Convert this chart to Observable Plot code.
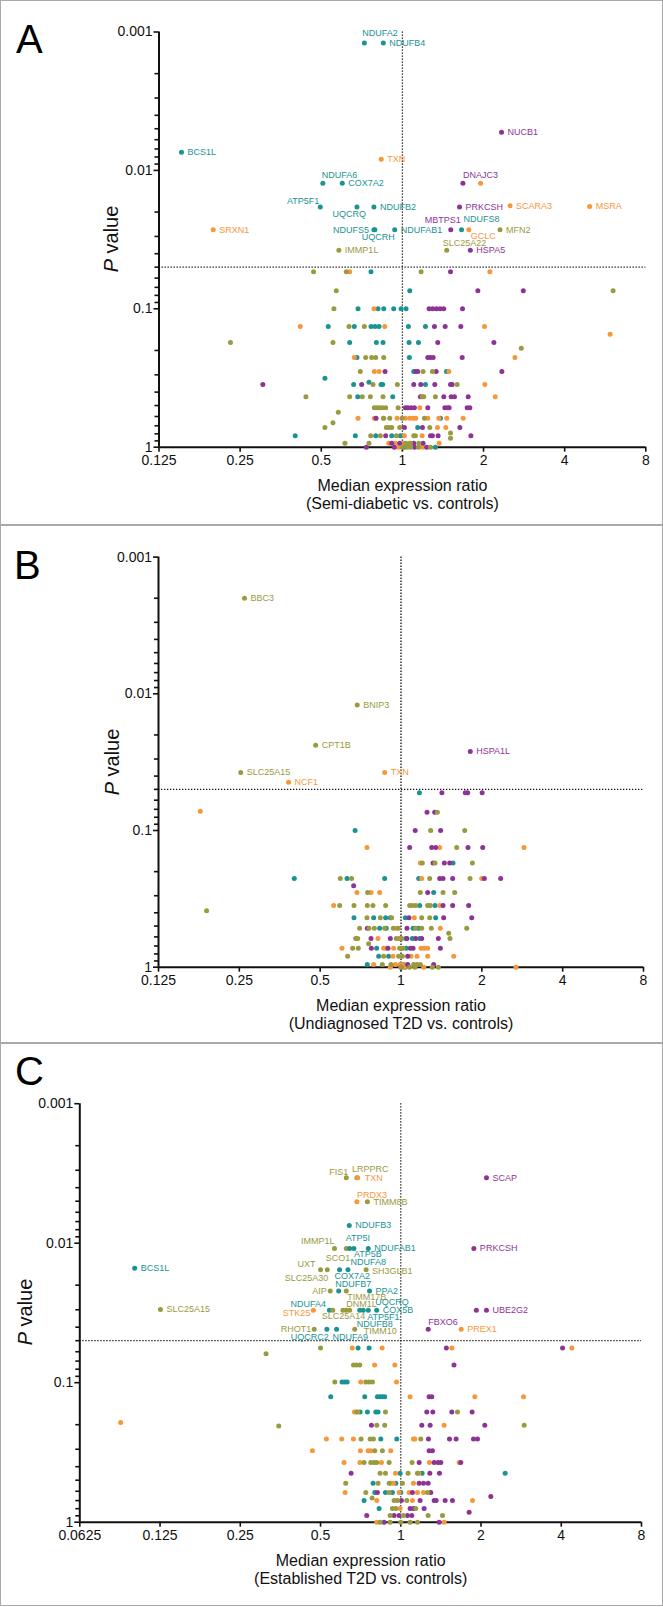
<!DOCTYPE html>
<html><head><meta charset="utf-8">
<script src="https://cdn.jsdelivr.net/npm/d3@7"></script>
<script src="https://cdn.jsdelivr.net/npm/@observablehq/plot@0.6"></script>
<style>
body{margin:0;background:#fff;}
#wrap{position:relative;width:663px;height:1607px;overflow:hidden;background:#fff;font-family:"Liberation Sans",Arial,sans-serif;color:#111;}
.frame{position:absolute;left:0;top:0;width:663px;height:1606px;border:1.5px solid #a9a9a9;box-sizing:border-box;}
.sep{position:absolute;left:0;width:663px;height:1.5px;background:#a9a9a9;}
.letter{position:absolute;font-size:40px;line-height:40px;color:#000;}
.ylab{position:absolute;width:200px;height:24px;line-height:24px;text-align:center;font-size:20px;transform:rotate(-90deg);color:#111;}
.pl{position:absolute;left:0;}
</style></head>
<body><div id="wrap"><div class="frame"></div>
<div class="sep" style="top:524px"></div><div class="sep" style="top:1042px"></div>
</div>
<script>
// ---------- axis ticks & labels ----------
const xTicksAB = [0.125, 0.25, 0.5, 1, 2, 4, 8];
const xTickLabelsAB = ["0.125", "0.25", "0.5", "1", "2", "4", "8"];
const xTicksC = [0.0625, 0.125, 0.25, 0.5, 1, 2, 4, 8];
const xTickLabelsC = ["0.0625", "0.125", "0.25", "0.5", "1", "2", "4", "8"];
const yTicks = [0.001, 0.01, 0.1, 1];
const yTickLabels = ["0.001", "0.01", "0.1", "1"];
const yMinorTicks = [0.002,0.003,0.004,0.005,0.006,0.007,0.008,0.009,0.02,0.03,0.04,0.05,0.06,0.07,0.08,0.09,0.2,0.3,0.4,0.5,0.6,0.7,0.8,0.9];
const pThreshold = 0.05;
const groupNames = ["teal", "orange", "purple", "olive"];

// ---------- Panel A (Semi-diabetic vs. controls): [log2 ratio, P] ----------
const A_teal = [[-0.387,0.054],[0.091,0.074],
 [-0.547,0.1],[-0.300,0.1],[-0.230,0.1],[-0.107,0.1],[-0.016,0.1],[0.045,0.1],
 [-0.914,0.134],[-0.593,0.134],[-0.387,0.134],[-0.337,0.134],[-0.288,0.134],[0.074,0.134],[0.284,0.134],
 [-0.650,0.175],[-0.321,0.175],[-0.239,0.175],[0.082,0.175],[0.198,0.175],
 [-0.560,0.225],[0.086,0.225],[0.140,0.284],[0.543,0.284],
 [-0.955,0.317],[-0.412,0.34],[-0.601,0.352],[-0.263,0.352],[-0.243,0.352],[0.284,0.352],
 [-0.551,0.432],[-0.119,0.432],[0.469,0.617],[0.189,0.721],
 [-1.321,0.828],[-0.580,0.828],[-0.329,0.828],[-0.132,0.828],[-0.025,0.828],
 [0.020,1],[0.407,1]];
const A_orange = [[-0.650,0.054],[1.078,0.054],[-0.350,0.1],
 [-1.259,0.134],[-0.218,0.134],[1.012,0.134],[2.560,0.153],
 [-0.593,0.225],[1.387,0.225],[-0.346,0.284],[-0.288,0.284],[0.572,0.284],
 [1.016,0.352],[1.144,0.432],[0.214,0.519],
 [-0.547,0.617],[-0.346,0.617],[-0.235,0.617],[-0.066,0.617],[0.037,0.617],[0.091,0.617],[0.132,0.617],[0.165,0.617],[0.313,0.617],[0.449,0.617],[0.547,0.617],[0.749,0.617],
 [0.432,0.721],[0.535,0.721],[0.025,0.828],[0.243,0.828],
 [-0.169,0.936],[-0.086,0.936],[0.016,0.936],[0.086,0.936],[0.453,0.936],
 [-0.050,1],[0.250,1],[0.963,0.0124]];
const A_purple = [[0.593,0.054],[0.930,0.074],[1.490,0.074],
 [0.329,0.1],[0.374,0.1],[0.420,0.1],[0.465,0.1],[0.510,0.1],[0.741,0.1],
 [0.395,0.134],[0.527,0.134],[0.720,0.134],[0.436,0.175],[1.128,0.175],
 [0.313,0.225],[0.346,0.225],[0.379,0.225],[0.737,0.225],
 [-0.214,0.284],[0.165,0.284],[0.189,0.284],[0.416,0.284],[1.226,0.284],
 [-1.720,0.352],[-0.502,0.352],[0.140,0.352],[0.226,0.352],[0.399,0.352],[0.593,0.352],[0.613,0.352],
 [0.222,0.432],[0.510,0.432],[0.601,0.432],[0.642,0.432],[0.811,0.432],
 [0.037,0.519],[0.066,0.519],[0.107,0.519],[0.148,0.519],[0.313,0.519],[0.523,0.519],[0.556,0.519],[0.576,0.519],[0.798,0.519],[0.831,0.519],
 [-0.325,0.617],[0.025,0.721],[0.247,0.721],[0.708,0.721],
 [-0.206,0.828],[0.346,0.828],[0.370,0.828],[0.440,0.828],[0.844,0.828],
 [-0.132,0.936],[-0.033,0.936],[0.140,0.936],[0.255,0.936],
 [-0.444,1],[-0.100,1],[0.150,1],[0.300,1]];
const A_olive = [[-1.095,0.054],[-0.691,0.054],[0.230,0.054],[-0.815,0.074],[2.597,0.074],
 [-0.844,0.1],[-0.658,0.134],[-0.469,0.134],[-2.119,0.175],[-0.856,0.175],[1.465,0.193],
 [-0.453,0.225],[-0.379,0.225],[-0.329,0.225],[-0.230,0.225],
 [-0.519,0.284],[0.255,0.284],[0.370,0.284],[-0.362,0.352],[-0.062,0.352],[0.675,0.352],
 [-1.189,0.432],[-0.650,0.432],[-0.494,0.432],[-0.395,0.432],[-0.239,0.432],[0.243,0.432],[0.263,0.432],[0.407,0.432],
 [-0.346,0.519],[-0.313,0.519],[-0.280,0.519],[-0.247,0.519],[-0.206,0.519],[-0.053,0.519],[-0.790,0.559],
 [-0.230,0.617],[-0.156,0.617],[-0.004,0.617],[0.272,0.617],[-0.856,0.667],
 [-0.955,0.721],[-0.198,0.721],[-0.165,0.721],[-0.132,0.721],[-0.033,0.721],[0.337,0.721],
 [-0.391,0.828],[-0.272,0.828],[-0.074,0.828],[0.140,0.828],[0.160,0.828],[0.593,0.79],[0.593,0.86],
 [-0.708,0.936],[-0.412,0.936],[0.041,0.936],[0.099,0.936],[0.202,0.936],
 [-0.004,1],[0.058,1],[0.100,1],[0.200,1],[0.346,1]];
const A_genes = [["NDUFA2","teal",-0.469,0.0012],["NDUFB4","teal",-0.235,0.0012],["NUCB1","purple",1.222,0.0053],
 ["BCS1L","teal",-2.723,0.0074],["TXN","orange",-0.261,0.0083],["NDUFA6","teal",-0.981,0.0124],
 ["COX7A2","teal",-0.741,0.0124],["DNAJC3","purple",0.746,0.0124],["ATP5F1","teal",-1.012,0.0184],
 ["UQCRQ","teal",-0.560,0.0184],["NDUFB2","teal",-0.351,0.0184],["PRKCSH","purple",0.704,0.0184],
 ["SCARA3","orange",1.327,0.0180],["MSRA","orange",2.308,0.0182],["MBTPS1","purple",0.596,0.0268],
 ["NDUFS8","teal",0.729,0.0268],["GCLC","orange",0.819,0.0268],["MFN2","olive",1.203,0.0268],
 ["SRXN1","orange",-2.332,0.0268],["NDUFS5","teal",-0.351,0.0268],["UQCRH","teal",-0.340,0.0268],
 ["NDUFAB1","teal",-0.095,0.0268],["SLC25A22","olive",0.546,0.0378],["HSPA5","purple",0.837,0.0378],
 ["IMMP1L","olive",-0.783,0.0378]];

// ---------- Panel B (Undiagnosed T2D vs. controls) ----------
const B_teal = [[0.228,0.053],[-0.568,0.1],[0.644,0.173],
 [-1.320,0.2245],[-0.668,0.2245],[-0.202,0.2245],[0.219,0.2245],[0.404,0.284],[0.231,0.354],[0.421,0.354],
 [-0.582,0.4355],[-0.338,0.4355],[-0.190,0.4355],[-0.132,0.4355],[0.054,0.4355],[0.429,0.4355],
 [-0.264,0.519],[-0.182,0.519],[0.149,0.519],[0.215,0.519],
 [-0.017,0.617],[0.058,0.617],[0.140,0.617],[0.231,0.617],[-0.301,0.726],[0.066,0.726],
 [-0.276,0.831],[-0.153,0.831],[-0.417,0.956],[0.033,0.956],[0.050,1]];
const B_orange = [[-2.483,0.0722],[-0.421,0.133],[0.479,0.133],[1.522,0.133],[0.239,0.173],
 [0.256,0.2245],[0.998,0.2245],[-0.545,0.284],[-0.371,0.284],[-0.264,0.284],[-0.833,0.354],[0.479,0.354],
 [0.165,0.4355],[-0.058,0.519],[0.487,0.519],[-0.285,0.617],[-0.008,0.617],
 [-0.730,0.726],[-0.215,0.726],[-0.182,0.726],[-0.091,0.726],[0.012,0.726],[0.248,0.726],[0.289,0.726],[0.330,0.726],
 [-0.099,0.831],[0.124,0.831],[0.198,0.831],[0.330,0.831],[0.652,0.831],
 [-0.338,0.956],[-0.070,0.956],[-0.017,0.956],[0.025,0.956],[-0.132,1],[0.041,1],[0.281,1],[1.423,1]];
const B_purple = [[0.506,0.053],[0.795,0.053],[0.825,0.053],[1.004,0.053],[0.322,0.0735],[0.417,0.0735],
 [0.176,0.1],[0.490,0.1],[0.107,0.133],[0.380,0.133],[0.429,0.133],[0.829,0.133],[1.011,0.133],
 [0.396,0.173],[0.536,0.173],[0.602,0.173],[0.479,0.2245],[0.520,0.2245],[0.639,0.2245],[1.031,0.2245],[1.233,0.2245],
 [-0.586,0.254],[0.330,0.284],[0.520,0.354],[0.639,0.354],[0.837,0.354],
 [0.099,0.4355],[0.528,0.4355],[0.875,0.4355],[-0.417,0.519],[0.074,0.519],
 [-0.371,0.617],[-0.132,0.617],[0.074,0.617],[0.182,0.617],[0.256,0.617],[0.462,0.617],
 [-0.367,0.726],[-0.161,0.726],[0.116,0.726],[0.149,0.726],[0.487,0.726],
 [0.083,0.831],[0.083,0.956],[0.404,0.956],[0.000,1]];
const B_olive = [[0.450,0.0735],[0.367,0.1],[0.788,0.1],[0.689,0.133],[0.264,0.173],[0.421,0.173],[0.883,0.173],
 [-0.751,0.2245],[-0.611,0.2245],[0.355,0.2245],[0.854,0.2245],[-0.413,0.284],[0.239,0.284],[0.520,0.284],[0.664,0.284],
 [-0.759,0.354],[-0.582,0.354],[-0.417,0.354],[-0.347,0.354],[-0.190,0.354],[0.107,0.354],[0.140,0.354],[0.182,0.354],[0.330,0.354],[0.363,0.354],
 [-2.405,0.387],[-0.421,0.4355],[-0.256,0.4355],[-0.116,0.4355],[0.256,0.4355],[0.355,0.4355],
 [-0.512,0.519],[-0.396,0.519],[-0.330,0.519],[-0.202,0.519],[-0.095,0.519],[-0.033,0.519],[0.182,0.519],[0.256,0.519],[0.375,0.519],[0.813,0.519],
 [0.590,0.564],[-0.561,0.617],[-0.536,0.617],[-0.058,0.617],[0.008,0.617],[0.606,0.617],[-0.400,0.675],
 [-0.598,0.726],[-0.528,0.726],[-0.017,0.726],[0.025,0.726],[-0.660,0.831],[-0.215,0.831],[-0.029,0.831],[0.017,0.831],
 [-0.231,0.956],[-0.124,0.956],[0.157,0.956],[0.198,0.956],[0.239,0.956],
 [0.000,1],[0.107,1],[0.173,1],[0.388,1],[0.462,1]];
const B_genes = [["BBC3","olive",-1.936,0.0020],["BNIP3","olive",-0.542,0.0121],["CPT1B","olive",-1.056,0.0238],
 ["HSPA1L","purple",0.857,0.0264],["SLC25A15","olive",-1.983,0.0376],["TXN","orange",-0.202,0.0376],
 ["NCF1","orange",-1.391,0.0443]];

// ---------- Panel C (Established T2D vs. controls) ----------
const C_teal = [[-0.532,0.0564],[-0.395,0.0564],[-0.732,0.099],[-0.700,0.099],[-0.668,0.099],
 [-0.873,0.126],[-0.449,0.126],[-0.291,0.126],[-0.258,0.126],[-0.229,0.126],[-0.200,0.126],
 [-0.507,0.162],[-0.416,0.162],[-0.312,0.162],[-0.283,0.162],[-0.249,0.253],[-0.050,0.253],
 [-0.008,0.445],[0.266,0.445],[1.301,0.445],[-0.345,0.525],[-0.062,0.525],
 [-0.324,0.613],[-0.191,0.613],[-0.104,0.613],[0.000,0.613],[-0.457,0.699],[-0.270,0.798]];
const C_orange = [[-0.605,0.0564],[-0.232,0.0564],[0.637,0.0564],[2.132,0.0564],[-0.326,0.0746],[-0.074,0.0746],
 [-0.499,0.099],[-0.053,0.099],[0.116,0.126],[0.923,0.126],[1.530,0.126],[-0.578,0.162],[-0.540,0.162],
 [-3.491,0.193],[0.540,0.2015],[-0.927,0.253],[-0.736,0.253],[-0.590,0.253],[0.158,0.253],[0.175,0.253],
 [-1.101,0.308],[-0.503,0.308],[-0.407,0.308],[-0.374,0.308],[-0.125,0.308],
 [-0.707,0.373],[-0.509,0.373],[-0.241,0.373],[0.357,0.373],[0.727,0.373],[-0.066,0.445],[0.224,0.445],
 [-0.125,0.525],[-0.091,0.525],[0.158,0.525],[-0.694,0.613],[-0.021,0.613],[0.104,0.613],[0.208,0.613],[0.283,0.613],
 [-0.299,0.699],[0.145,0.699],[0.894,0.699],[-0.008,0.798],[-0.299,1],[0.540,1]];
const C_purple = [[0.568,0.0564],[2.016,0.0564],[0.663,0.0746],[0.353,0.126],[0.387,0.126],
 [0.324,0.162],[0.399,0.162],[0.636,0.162],[0.889,0.162],[-0.366,0.2015],[0.262,0.2015],[0.366,0.2015],[1.047,0.2015],
 [0.345,0.253],[0.607,0.253],[0.690,0.253],[0.906,0.253],[0.956,0.253],[0.353,0.308],[0.395,0.308],
 [0.229,0.373],[0.416,0.373],[0.465,0.373],[0.499,0.373],[0.748,0.373],[-0.619,0.445],[0.362,0.445],[0.482,0.445],
 [0.229,0.525],[0.283,0.525],[0.341,0.525],[-0.291,0.613],[0.145,0.613],[0.374,0.613],
 [0.008,0.699],[0.241,0.699],[0.416,0.699],[0.441,0.699],[0.553,0.699],[0.644,0.699],[1.122,0.655],
 [0.116,0.798],[0.158,0.798],[0.291,0.798],[0.852,0.848],
 [-0.424,0.896],[-0.083,0.896],[-0.021,0.896],[0.083,0.896],[0.137,0.896],[-0.208,1],[0.478,1],[0.942,0.0303]];
const C_olive = [[-1.000,0.0564],[-1.679,0.0619],[-0.589,0.0746],[-0.553,0.0746],[-0.511,0.0746],
 [-0.822,0.099],[-0.436,0.099],[-0.395,0.099],[-0.353,0.099],[-0.549,0.162],[-0.191,0.162],[0.707,0.162],
 [-1.521,0.204],[-0.299,0.2015],[-0.200,0.2015],[1.538,0.2015],[-0.495,0.253],[-0.382,0.253],[-0.341,0.253],[0.249,0.253],
 [-0.324,0.308],[-0.229,0.308],[-0.457,0.373],[-0.374,0.373],[-0.333,0.373],[-0.299,0.373],[-0.145,0.373],[0.141,0.373],
 [-0.258,0.445],[-0.191,0.445],[0.091,0.445],[0.208,0.445],[-0.686,0.525],[-0.283,0.525],[-0.145,0.525],[0.021,0.525],
 [-0.436,0.613],[-0.145,0.613],[0.333,0.613],[-0.357,0.67],[-0.083,0.699],[-0.042,0.699],[0.075,0.699],
 [-0.104,0.798],[-0.062,0.798],[0.187,0.798],[-0.133,0.896],[0.033,0.896],[0.341,0.896],[0.520,0.896],
 [-0.258,1],[-0.133,1],[0.000,1],[0.116,1],[0.208,1],[-0.721,0.0303],[-0.637,0.0303]];
const C_genes = [["FIS1","olive",-0.679,0.00339],["LRPPRC","olive",-0.547,0.00339],["TXN","orange",-0.537,0.00339],
 ["SCAP","purple",1.068,0.00339],["PRDX3","orange",-0.547,0.00505],["TIMM8B","olive",-0.416,0.00505],
 ["NDUFB3","teal",-0.642,0.00746],["IMMP1L","olive",-0.826,0.0109],["SCO1","olive",-0.679,0.0109],
 ["ATP5I","teal",-0.637,0.0109],["ATP5B","teal",-0.584,0.0109],["NDUFAB1","teal",-0.405,0.0109],
 ["PRKCSH","purple",0.911,0.0109],["BCS1L","teal",-3.316,0.0151],["UXT","olive",-1.000,0.0155],
 ["SLC25A30","olive",-0.916,0.0155],["COX7A2","teal",-0.763,0.0155],["NDUFA8","teal",-0.658,0.0155],
 ["SH3GLB1","olive",-0.432,0.0155],["AIP","olive",-0.879,0.022],["NDUFB7","teal",-0.774,0.022],
 ["TIMM17B","olive",-0.679,0.022],["PPA2","teal",-0.389,0.022],["SLC25A15","olive",-2.995,0.0299],
 ["STK25","orange",-1.089,0.0303],["NDUFA4","teal",-0.889,0.0303],["SLC25A14","olive",-0.847,0.0303],
 ["DNM1L","olive",-0.679,0.0303],["NDUFB8","teal",-0.511,0.0303],["ATP5F1","teal",-0.468,0.0303],
 ["UQCRQ","teal",-0.405,0.0303],["COX5B","teal",-0.300,0.0303],["UBE2G2","purple",1.068,0.0303],
 ["RHOT1","olive",-1.079,0.0414],["UQCRC2","teal",-0.921,0.0414],["NDUFA9","teal",-0.800,0.0414],
 ["TIMM10","olive",-0.574,0.0414],["FBXO6","purple",0.342,0.0414],["PREX1","orange",0.753,0.0414]];

// ---------- styling / layout (kept apart from the data) ----------
const COLORS = {teal: "#1a9393", orange: "#f6973a", purple: "#8e3396", olive: "#9a9a3e"};
const A_place = {NDUFA2:["start",-2,-9.5], NDUFA6:["start",-1,-8.5], DNAJC3:["start",0,-8], ATP5F1:["end",-1,-5.5],
 UQCRQ:["end",9,7.5], MBTPS1:["end",10,-9.5], NDUFS8:["start",2,-10.5], GCLC:["start",2,6], NDUFS5:["end",-5,0],
 UQCRH:["start",-13,7], SLC25A22:["start",-4,-7]};
const B_place = {};
const C_place = {FIS1:["end",2,-6], LRPPRC:["start",-5,-9], TXN:["start",7,0], PRDX3:["start",0,-7], IMMP1L:["end",0,-7.5],
 SCO1:["end",4,9.5], ATP5I:["start",-4,-10.5], ATP5B:["start",0,6], UXT:["end",-5,-5.5], SLC25A30:["end",1,8],
 COX7A2:["start",-5,6.5], NDUFA8:["start",2.5,-8], AIP:["end",-3.5,0], NDUFB7:["start",-3.5,-7], TIMM17B:["start",1,6],
 STK25:["end",-3,3], NDUFA4:["end",-3.5,-6.5], SLC25A14:["start",-11,6], DNM1L:["start",0,-6], NDUFB8:["start",-3,14],
 ATP5F1:["start",4,7], UQCRQ:["start",7,-8], RHOT1:["end",-3,0], UQCRC2:["end",2,8], NDUFA9:["start",-4,8],
 TIMM10:["start",9,2], FBXO6:["start",0,-7], SH3GLB1:["start",6,1.5]};

const FONT = '"Liberation Sans", Arial, Helvetica, sans-serif';

function makePanel(cfg) {
  const pts = [];
  cfg.groups.forEach((arr, i) => arr.forEach(([l2, p]) => pts.push({g: groupNames[i], l2, p})));
  cfg.genes.forEach(([gene, g, l2, p]) => pts.push({g, l2, p, gene}));
  const labelMarks = cfg.genes.map(([gene, g, l2, p]) => {
    const [anchor, dx, dy] = cfg.place[gene] || ["start", 6, 0];
    return Plot.text([{gene, g, l2, p}], {x: d => 2 ** d.l2, y: "p", text: "gene", fill: COLORS[g],
      textAnchor: anchor, dx, dy, fontSize: 9});
  });
  const dotted = {stroke: "#111", strokeWidth: 1.3, strokeDasharray: "1.3,1.7"};
  return Plot.plot({
    width: 663, height: cfg.height,
    marginTop: cfg.mt, marginBottom: cfg.mb, marginLeft: cfg.ml, marginRight: cfg.mr,
    x: {type: "log", base: 2, domain: cfg.xDomain},
    y: {type: "log", domain: [1, 0.001]},
    color: {type: "identity"},
    style: {fontFamily: FONT, fontSize: "13.5px", background: "transparent", color: "#111", overflow: "visible"},
    marks: [
      Plot.ruleX([1], dotted),
      Plot.ruleY([pThreshold], dotted),
      Plot.axisY({ticks: yMinorTicks, tickFormat: () => "", tickSize: 4, strokeWidth: 1.6, label: null}),
      Plot.axisY({ticks: yTicks, tickFormat: d => yTickLabels[yTicks.indexOf(d)], tickSize: 5, tickPadding: 1.5,
        strokeWidth: 1.6, fontSize: 14, label: null}),
      Plot.axisX({ticks: cfg.xTicks, tickFormat: d => cfg.xLabels[cfg.xTicks.indexOf(d)], tickSize: 5, tickPadding: 3,
        strokeWidth: 1.6, fontSize: 14, label: null}),
      Plot.ruleY([1], {stroke: "#111", strokeWidth: 2}),
      Plot.ruleX([cfg.xDomain[0]], {stroke: "#111", strokeWidth: 2}),
      Plot.dot(pts, {x: d => 2 ** d.l2, y: "p", r: 2.5, fill: d => COLORS[d.g]}),
      ...labelMarks,
      Plot.text([cfg.title], {frameAnchor: "bottom", lineAnchor: "top", dy: 31, fontSize: 16, lineHeight: 1.13, fill: "#111"})
    ]
  });
}

const panels = [
  {top: 0, height: 524, mt: 31.5, mb: 77.3, ml: 158.5, mr: 17.7, xDomain: [0.125, 8], xTicks: xTicksAB, xLabels: xTickLabelsAB,
   groups: [A_teal, A_orange, A_purple, A_olive], genes: A_genes, place: A_place,
   title: "Median expression ratio\n(Semi-diabetic vs. controls)", letter: "A", lx: 16, ly: 18.5, yl: 111},
  {top: 524, height: 518, mt: 32.6, mb: 75.3, ml: 158, mr: 20, xDomain: [0.125, 8], xTicks: xTicksAB, xLabels: xTickLabelsAB,
   groups: [B_teal, B_orange, B_purple, B_olive], genes: B_genes, place: B_place,
   title: "Median expression ratio\n(Undiagnosed T2D vs. controls)", letter: "B", lx: 14, ly: 545, yl: 111.5},
  {top: 1042, height: 565, mt: 61.2, mb: 85.3, ml: 79.3, mr: 22, xDomain: [0.0625, 8], xTicks: xTicksC, xLabels: xTickLabelsC,
   groups: [C_teal, C_orange, C_purple, C_olive], genes: C_genes, place: C_place,
   title: "Median expression ratio\n(Established T2D vs. controls)", letter: "C", lx: 15, ly: 1051, yl: 25}
];

const wrap = document.getElementById("wrap");
for (const cfg of panels) {
  const holder = document.createElement("div");
  holder.className = "pl";
  holder.style.top = cfg.top + "px";
  holder.appendChild(makePanel(cfg));
  wrap.appendChild(holder);
  const L = document.createElement("div");
  L.className = "letter"; L.textContent = cfg.letter;
  L.style.left = cfg.lx + "px"; L.style.top = cfg.ly + "px";
  wrap.appendChild(L);
  const cy = cfg.top + cfg.mt + (cfg.height - cfg.mt - cfg.mb) / 2;
  const Y = document.createElement("div");
  Y.className = "ylab";
  Y.innerHTML = "<i>P</i> value";
  Y.style.left = (cfg.yl - 100) + "px"; Y.style.top = (cy - 12) + "px";
  wrap.appendChild(Y);
}
</script></body></html>
